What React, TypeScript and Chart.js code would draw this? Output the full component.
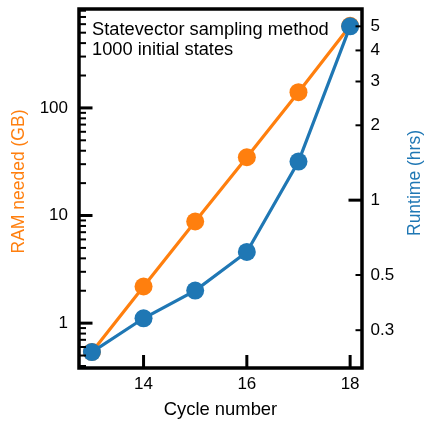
import React, { useEffect, useRef } from 'react';
import { Chart, registerables } from 'chart.js';

Chart.register(...registerables);

// ---- data ----
const cycles = [13, 14, 15, 16, 17, 18];
const ramGB = [0.54, 2.19, 8.8, 34.8, 140, 580];
const runtimeHrs = [0.245, 0.335, 0.433, 0.619, 1.43, 5.0];

// ---- axes ----
const xRange = [12.75, 18.23];
const ramRange = [0.383, 830];
const runtimeRange = [0.2114, 5.87];

const xTicks = [14, 16, 18];
const ramMajorTicks = [1, 10, 100];
const ramMinorTicks = [
  0.4, 0.5, 0.6, 0.7, 0.8, 0.9,
  2, 3, 4, 5, 6, 7, 8, 9,
  20, 30, 40, 50, 60, 70, 80, 90,
  200, 300, 400, 500, 600, 700, 800,
];
const runtimeMajorTicks = [1];
const runtimeMinorTicks = [0.3, 0.5, 2, 3, 4, 5];

const annotationLines = ['Statevector sampling method', '1000 initial states'];
const xTitle = 'Cycle number';
const leftTitle = 'RAM needed (GB)';
const rightTitle = 'Runtime (hrs)';

const ORANGE = '#ff7f0e';
const BLUE = '#1f77b4';
const FONT = 'Liberation Sans, Arial, sans-serif';

const overlayPlugin = {
  id: 'overlay',
  afterDraw(chart: any) {
    const ctx = chart.ctx;
    const { left, right, top, bottom } = chart.chartArea;
    const yL = chart.scales.yL;
    const yR = chart.scales.yR;
    const xs = chart.scales.x;
    ctx.save();
    ctx.strokeStyle = '#000';
    ctx.lineCap = 'butt';

    const hTick = (scale: any, values: number[], edge: number, dir: number, len: number, w: number) => {
      values.forEach((v) => {
        const y = scale.getPixelForValue(v);
        ctx.lineWidth = w;
        ctx.beginPath();
        ctx.moveTo(edge, y);
        ctx.lineTo(edge + dir * len, y);
        ctx.stroke();
      });
    };
    hTick(yL, ramMajorTicks, left, 1, 13.5, 3);
    hTick(yL, ramMinorTicks, left, 1, 7, 2);
    hTick(yR, runtimeMajorTicks, right, -1, 13.5, 3);
    hTick(yR, runtimeMinorTicks, right, -1, 6.5, 2);
    xTicks.forEach((v) => {
      const x = xs.getPixelForValue(v);
      ctx.lineWidth = 3;
      ctx.beginPath();
      ctx.moveTo(x, bottom);
      ctx.lineTo(x, bottom - 13);
      ctx.stroke();
    });

    // frame
    ctx.lineWidth = 3.5;
    ctx.lineJoin = 'miter';
    ctx.strokeRect(left, top, right - left, bottom - top);

    // annotation
    ctx.fillStyle = '#000';
    ctx.font = `18.3px ${FONT}`;
    ctx.textAlign = 'left';
    ctx.textBaseline = 'alphabetic';
    ctx.fillText(annotationLines[0], 92, 35);
    ctx.fillText(annotationLines[1], 92, 55);

    // x title
    ctx.font = `18.4px ${FONT}`;
    ctx.textAlign = 'center';
    ctx.fillText(xTitle, (left + right) / 2, 415);

    // left title
    ctx.font = `17.5px ${FONT}`;
    ctx.fillStyle = ORANGE;
    ctx.save();
    ctx.translate(24, 181.5);
    ctx.rotate(-Math.PI / 2);
    ctx.textAlign = 'center';
    ctx.fillText(leftTitle, 0, 0);
    ctx.restore();

    // right title
    ctx.fillStyle = BLUE;
    ctx.save();
    ctx.translate(420, 183);
    ctx.rotate(-Math.PI / 2);
    ctx.textAlign = 'center';
    ctx.fillText(rightTitle, 0, 0);
    ctx.restore();

    ctx.restore();
  },
};

const zeroPad = (scale: any) => {
  scale.paddingTop = 0;
  scale.paddingBottom = 0;
  scale.paddingLeft = 0;
  scale.paddingRight = 0;
};

export default function App() {
  const canvasRef = useRef<HTMLCanvasElement | null>(null);

  useEffect(() => {
    const canvas = canvasRef.current;
    if (!canvas) return;
    const tickFont = { family: FONT, size: 17 };
    const chart = new Chart(canvas, {
      type: 'line',
      data: {
        datasets: [
          {
            label: 'Runtime',
            data: cycles.map((c, i) => ({ x: c, y: runtimeHrs[i] })),
            yAxisID: 'yR',
            borderColor: BLUE,
            backgroundColor: BLUE,
            borderWidth: 3.2,
            pointRadius: 9,
            pointHoverRadius: 9,
            pointBorderWidth: 0,
            tension: 0,
            clip: false as any,
          },
          {
            label: 'RAM',
            data: cycles.map((c, i) => ({ x: c, y: ramGB[i] })),
            yAxisID: 'yL',
            borderColor: ORANGE,
            backgroundColor: ORANGE,
            borderWidth: 3.2,
            pointRadius: 9,
            pointHoverRadius: 9,
            pointBorderWidth: 0,
            tension: 0,
            clip: false as any,
          },
        ],
      },
      options: {
        responsive: false,
        animation: false,
        devicePixelRatio: 1,
        layout: { padding: { top: 5, left: 0, right: 0, bottom: 0 } },
        plugins: {
          legend: { display: false },
          tooltip: { enabled: false },
        },
        events: [],
        scales: {
          x: {
            type: 'linear',
            position: 'bottom',
            min: xRange[0],
            max: xRange[1],
            grid: { display: false, drawTicks: false },
            border: { display: false },
            afterBuildTicks: (scale: any) => {
              scale.ticks = xTicks.map((v) => ({ value: v }));
            },
            afterFit: (scale: any) => {
              scale.height = 55;
              zeroPad(scale);
            },
            ticks: {
              font: tickFont,
              color: '#000',
              padding: 6,
              autoSkip: false,
              maxRotation: 0,
              callback: (v: any) => String(v),
            },
          },
          yL: {
            type: 'logarithmic',
            position: 'left',
            min: ramRange[0],
            max: ramRange[1],
            grid: { display: false, drawTicks: false },
            border: { display: false },
            afterBuildTicks: (scale: any) => {
              scale.ticks = [...ramMinorTicks, ...ramMajorTicks]
                .sort((a, b) => a - b)
                .map((v) => ({ value: v }));
            },
            afterFit: (scale: any) => {
              scale.width = 79;
              zeroPad(scale);
            },
            ticks: {
              font: tickFont,
              color: '#000',
              padding: 11,
              autoSkip: false,
              callback: (v: any) => (ramMajorTicks.includes(v) ? String(v) : ''),
            },
          },
          yR: {
            type: 'logarithmic',
            position: 'right',
            min: runtimeRange[0],
            max: runtimeRange[1],
            grid: { display: false, drawTicks: false },
            border: { display: false },
            afterBuildTicks: (scale: any) => {
              scale.ticks = [...runtimeMinorTicks, ...runtimeMajorTicks]
                .sort((a, b) => a - b)
                .map((v) => ({ value: v }));
            },
            afterFit: (scale: any) => {
              scale.width = 64;
              zeroPad(scale);
            },
            ticks: {
              font: tickFont,
              color: '#000',
              padding: 8.5,
              autoSkip: false,
              callback: (v: any) => String(v),
            },
          },
        },
      },
      plugins: [overlayPlugin],
    } as any);
    return () => chart.destroy();
  }, []);

  return (
    <div style={{ position: 'fixed', left: 0, top: 0, width: 426, height: 423, background: '#fff' }}>
      <canvas ref={canvasRef} width={426} height={423} style={{ display: 'block' }} />
    </div>
  );
}
